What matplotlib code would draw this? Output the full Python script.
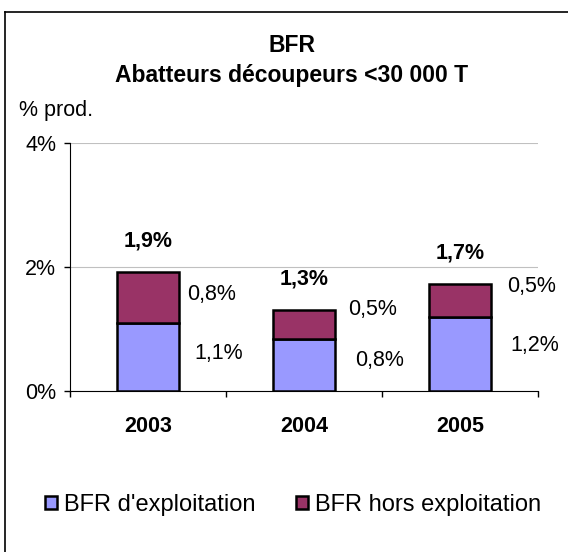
import matplotlib.pyplot as plt
from matplotlib.lines import Line2D

plt.rcParams['font.family'] = ['Liberation Sans', 'DejaVu Sans']

years = ['2003', '2004', '2005']
bfr_exploit = [1.10, 0.84, 1.19]
bfr_hors = [0.82, 0.47, 0.54]
totals = [a + b for a, b in zip(bfr_exploit, bfr_hors)]

def fmt(v):
    return f'{v:.1f}%'.replace('.', ',')

fig = plt.figure(figsize=(5.68, 5.52), dpi=100)
ax = fig.add_axes([70/568, 1-391/552, 468/568, 248/552])

x = range(len(years))
ax.bar(x, bfr_exploit, 0.4, color='#9999FF', edgecolor='black', linewidth=1.8,
       label="BFR d'exploitation", zorder=3)
ax.bar(x, bfr_hors, 0.4, bottom=bfr_exploit, color='#993366', edgecolor='black',
       linewidth=1.8, label='BFR hors exploitation', zorder=3)

# labels: totals above, segment values on the right of the bars
top_off = [(8, 3), (13, 15), (16, 14)]
bot_off = [(15, 3), (20, 4), (19, 9)]
for i in x:
    ax.annotate(fmt(totals[i]), (i, totals[i]), xytext=(0, 31), textcoords='offset pixels',
                ha='center', va='center', fontsize=15.5, fontweight='bold')
    ax.annotate(fmt(bfr_hors[i]), (i + 0.2, bfr_exploit[i] + bfr_hors[i] / 2),
                xytext=top_off[i], textcoords='offset pixels', ha='left', va='center', fontsize=15.5)
    ax.annotate(fmt(bfr_exploit[i]), (i + 0.2, bfr_exploit[i] / 2),
                xytext=bot_off[i], textcoords='offset pixels', ha='left', va='center', fontsize=15.5)

ax.set_xlim(-0.5, 2.5)
ax.set_ylim(0, 4)
ax.set_yticks([0, 2, 4])
ax.set_yticklabels(['0%', '2%', '4%'], fontsize=15.5)
ax.tick_params(axis='y', length=4, width=1, pad=6)
ax.set_xticks(list(x))
ax.set_xticklabels(years, fontsize=15.5, fontweight='bold')
ax.set_xticks([-0.5, 0.5, 1.5, 2.5], minor=True)
ax.tick_params(axis='x', which='major', length=0, pad=18)
ax.tick_params(axis='x', which='minor', length=4, width=1)
ax.yaxis.grid(True, color='#c0c0c0', linewidth=0.8, zorder=0)
ax.set_axisbelow(True)
for s in ['top', 'right']:
    ax.spines[s].set_visible(False)

fig.text(292/568, 1-52/552, 'BFR', ha='center', va='baseline', fontsize=16.5, fontweight='bold')
fig.text(292/568, 1-82/552, 'Abatteurs découpeurs <30 000 T', ha='center', va='baseline',
         fontsize=16.5, fontweight='bold')
fig.text(19/568, 1-116/552, '% prod.', ha='left', va='baseline', fontsize=15.5)

fig.legend(loc='center', bbox_to_anchor=(293/568, 1-505/552), ncol=2, frameon=False,
           fontsize=17, handlelength=0.5, handleheight=0.5, handletextpad=0.3,
           columnspacing=1.7)

# chart border (left and top visible)
fig.add_artist(Line2D([5/568, 5/568], [0, 1-12/552], color='black', linewidth=1.2))
fig.add_artist(Line2D([5/568, 1], [1-12/552, 1-12/552], color='black', linewidth=1.2))

fig.savefig('out.png', dpi=100)
